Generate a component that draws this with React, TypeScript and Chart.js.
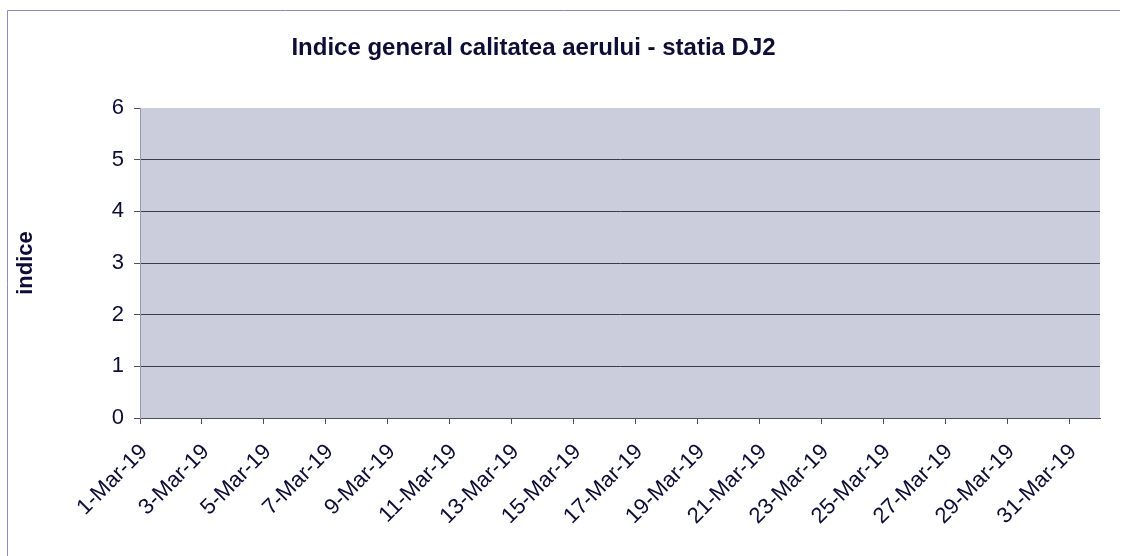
import React, { useEffect, useRef } from "react";
import { Chart, registerables } from "chart.js";

Chart.register(...registerables);

const titleText = "Indice general calitatea aerului - statia DJ2";
const yAxisTitle = "indice";

const categories: string[] = [
  "1-Mar-19", "2-Mar-19", "3-Mar-19", "4-Mar-19", "5-Mar-19", "6-Mar-19", "7-Mar-19",
  "8-Mar-19", "9-Mar-19", "10-Mar-19", "11-Mar-19", "12-Mar-19", "13-Mar-19", "14-Mar-19",
  "15-Mar-19", "16-Mar-19", "17-Mar-19", "18-Mar-19", "19-Mar-19", "20-Mar-19", "21-Mar-19",
  "22-Mar-19", "23-Mar-19", "24-Mar-19", "25-Mar-19", "26-Mar-19", "27-Mar-19", "28-Mar-19",
  "29-Mar-19", "30-Mar-19", "31-Mar-19",
];

// No data points are visible in the reference: the series is empty.
const indexValues: (number | null)[] = [
  null, null, null, null, null, null, null, null, null, null, null,
  null, null, null, null, null, null, null, null, null, null, null,
  null, null, null, null, null, null, null, null, null,
];

const yTickValues = [0, 1, 2, 3, 4, 5, 6];

const FONT = "'Liberation Sans', Arial, sans-serif";
const TEXT = "#0d0d35";

const decorPlugin = {
  id: "decor",
  beforeDraw(chart: any) {
    const { ctx, chartArea } = chart;
    ctx.save();
    ctx.fillStyle = "#ffffff";
    ctx.fillRect(0, 0, chart.width, chart.height);
    ctx.fillStyle = "#cbccdc";
    ctx.fillRect(chartArea.left, chartArea.top, chartArea.right - chartArea.left, chartArea.bottom - chartArea.top);
    ctx.strokeStyle = "#8c8cc0";
    ctx.lineWidth = 1;
    ctx.beginPath();
    ctx.moveTo(7.5, 556);
    ctx.lineTo(7.5, 10.5);
    ctx.lineTo(1120, 10.5);
    ctx.stroke();
    ctx.restore();
  },
  afterDraw(chart: any) {
    const { ctx } = chart;
    ctx.save();
    ctx.fillStyle = TEXT;
    ctx.font = `bold 24px ${FONT}`;
    ctx.textAlign = "center";
    ctx.textBaseline = "alphabetic";
    ctx.fillText(titleText, 533.5, 55);
    ctx.restore();
  },
};

export default function App() {
  const ref = useRef<HTMLCanvasElement | null>(null);

  useEffect(() => {
    if (!ref.current) return;
    const chart = new Chart(ref.current, {
      type: "line",
      data: {
        datasets: [
          {
            label: "indice",
            data: indexValues.map((v, i) => ({ x: i, y: v })),
            borderColor: "#000080",
            backgroundColor: "#000080",
            borderWidth: 2,
            pointRadius: 0,
            spanGaps: false,
          },
        ],
      },
      options: {
        animation: false,
        responsive: false,
        maintainAspectRatio: false,
        layout: { padding: { left: 0, right: 29, top: 108, bottom: 0 } },
        plugins: {
          legend: { display: false },
          tooltip: { enabled: false },
          title: { display: false },
        },
        scales: {
          x: {
            type: "linear",
            min: 0,
            max: categories.length,
            afterFit: (scale: any) => {
              scale.height = 138;
            },
            ticks: {
              stepSize: 2,
              includeBounds: false,
              autoSkip: false,
              minRotation: 45,
              maxRotation: 45,
              padding: 15,
              labelOffset: 4,
              color: TEXT,
              font: { family: FONT, size: 22 },
              callback: (v: any) => categories[Number(v)] ?? "",
            },
            grid: {
              drawOnChartArea: false,
              drawTicks: true,
              tickLength: 6,
              tickColor: "#505060",
            },
            border: { display: true, color: "#505060", width: 1 },
          },
          y: {
            type: "linear",
            min: yTickValues[0],
            max: yTickValues[yTickValues.length - 1],
            afterFit: (scale: any) => {
              scale.width = 140;
            },
            afterBuildTicks: (scale: any) => {
              scale.ticks = yTickValues.map((v) => ({ value: v }));
            },
            ticks: {
              stepSize: 1,
              padding: 10,
              color: TEXT,
              font: { family: FONT, size: 22 },
            },
            grid: {
              drawTicks: true,
              tickLength: 6,
              tickColor: "#505060",
              color: (c: any) => (c.tick && c.tick.value === 6 ? "rgba(0,0,0,0)" : "#3c3c48"),
              lineWidth: 1,
            },
            border: { display: true, color: "#9a9aac", width: 1 },
            title: {
              display: true,
              text: yAxisTitle,
              color: TEXT,
              font: { family: FONT, size: 22, weight: "bold" },
              padding: { top: 13, bottom: 0 },
            },
          },
        },
      },
      plugins: [decorPlugin],
    });
    return () => chart.destroy();
  }, []);

  return (
    <div style={{ position: "absolute", left: 0, top: 0, width: 1129, height: 556, background: "#fff" }}>
      <canvas ref={ref} width={1129} height={556} style={{ display: "block", width: 1129, height: 556 }} />
    </div>
  );
}
